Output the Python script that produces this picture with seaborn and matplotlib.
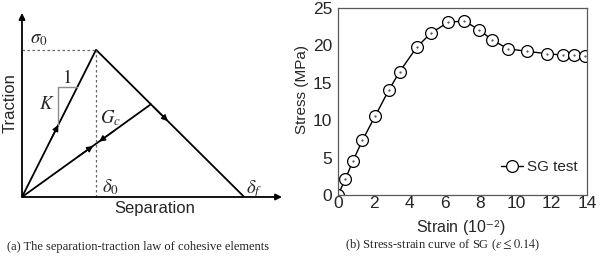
import matplotlib
matplotlib.use("Agg")
import matplotlib.pyplot as plt
import seaborn as sns
import pandas as pd
import numpy as np

# ---- data ----
# (a) cohesive law (normalised: delta0 = 1, sigma0 = 1)
law_sep = [0.0, 1.0, 3.0]          # 0, delta0, delta_f
law_trac = [0.0, 1.0, 0.0]
damage_sep = [0.0, 1.74]           # unloading/reloading path
damage_trac = [0.0, 0.63]

# (b) stress-strain curve of SG
strain = [0.0, 0.41, 0.84, 1.37, 2.1, 2.85, 3.47, 4.44, 5.23, 6.2, 7.1,
          7.93, 8.68, 9.56, 10.63, 11.73, 12.65, 13.29, 13.9]
stress = [0.0, 2.1, 4.55, 7.3, 10.6, 14.0, 16.5, 19.8, 21.65, 23.1, 23.26,
          22.1, 20.7, 19.55, 19.2, 18.9, 18.7, 18.7, 18.6]
xticks = [0, 2, 4, 6, 8, 10, 12, 14]
yticks = [0, 5, 10, 15, 20, 25]

sns.set_style("white")
plt.rcParams['font.family'] = ['Liberation Sans', 'DejaVu Sans']
plt.rcParams['mathtext.fontset'] = 'stix'

fig = plt.figure(figsize=(6.0, 2.57), dpi=100)

# ---------------- (a) ----------------
axA = fig.add_axes([22/600, (257-197)/257, 260/600, 184/257])
axA.set_xlim(0, 3.51)
axA.set_ylim(0, 1.25)
axA.axis('off')

df_law = pd.DataFrame({'sep': law_sep, 'trac': law_trac})
sns.lineplot(data=df_law, x='sep', y='trac', ax=axA, color='black', lw=1.3,
             sort=False, estimator=None)
df_dmg = pd.DataFrame({'sep': damage_sep, 'trac': damage_trac})
sns.lineplot(data=df_dmg, x='sep', y='trac', ax=axA, color='black', lw=1.3,
             sort=False, estimator=None)
axA.set_xlabel('')
axA.set_ylabel('')

# axes arrows
axA.annotate('', xy=(3.51, 0), xytext=(0, 0),
             arrowprops=dict(arrowstyle='-|>', color='black', lw=1.3,
                             mutation_scale=9, shrinkA=0, shrinkB=0),
             annotation_clip=False)
axA.annotate('', xy=(0, 1.25), xytext=(0, 0),
             arrowprops=dict(arrowstyle='-|>', color='black', lw=1.3,
                             mutation_scale=9, shrinkA=0, shrinkB=0),
             annotation_clip=False)

# dashed guides
axA.plot([0, law_sep[1]], [law_trac[1], law_trac[1]], ls=(0, (2, 2)), color='0.4', lw=0.9)
axA.plot([law_sep[1], law_sep[1]], [0, law_trac[1]], ls=(0, (2, 2)), color='0.4', lw=0.9)

# slope triangle
axA.plot([0.486, 0.743], [0.748, 0.748], color='0.55', lw=1.0)
axA.plot([0.486, 0.486], [0.748, 0.49], color='0.55', lw=1.0)

def small_arrow(x, y, dx, dy):
    axA.annotate('', xy=(x, y), xytext=(x - dx, y - dy),
                 arrowprops=dict(arrowstyle='-|>,head_length=0.6,head_width=0.3',
                                 color='black', lw=1.0,
                                 mutation_scale=6, shrinkA=0, shrinkB=0))

small_arrow(0.49, 0.49, 0.1, 0.1)
small_arrow(1.97, 0.515, 0.2, -0.1)
small_arrow(0.96, 0.347, 0.2, 0.072)
small_arrow(1.04, 0.376, -0.2, -0.072)

mfs = 13.5
axA.text(0.22, 1.07, r'$\sigma_0$', fontsize=mfs, ha='center', va='center')
axA.text(0.604, 0.81, r'$1$', fontsize=mfs, ha='center', va='center')
axA.text(0.33, 0.626, r'$K$', fontsize=mfs, ha='center', va='center')
axA.text(1.19, 0.535, r'$G_c$', fontsize=mfs, ha='center', va='center')
axA.text(1.19, 0.07, r'$\delta_0$', fontsize=mfs, ha='center', va='center')
axA.text(3.13, 0.05, r'$\delta_f$', fontsize=mfs, ha='center', va='center')

axA.text(-0.046, 0.51, 'Traction', transform=axA.transAxes, rotation=90,
         fontsize=12, ha='center', va='center')
axA.text(0.51, -0.06, 'Separation', transform=axA.transAxes,
         fontsize=12, ha='center', va='center')

fig.text(0.23, 0.039, '(a) The separation-traction law of cohesive elements',
         family=['Liberation Serif'], fontsize=9, ha='center', va='center')

# ---------------- (b) ----------------
axB = fig.add_axes([338/600, (257-195)/257, 249/600, 187/257])
df = pd.DataFrame({'strain': strain, 'stress': stress})
sns.lineplot(data=df, x='strain', y='stress', ax=axB, color='black', lw=1.0,
             marker='o', markersize=8.5, markerfacecolor='white',
             markeredgecolor='black', markeredgewidth=0.9, label='SG test',
             sort=False, estimator=None)
axB.plot(strain, stress, ls='none', marker='.', markersize=1.2, color='0.3')
axB.set_xlim(0, 14)
axB.set_ylim(0, 25)
axB.set_xticks(xticks)
axB.set_yticks(yticks)
axB.tick_params(axis='both', labelsize=12.5, length=0)
axB.tick_params(axis='x', pad=1)
axB.tick_params(axis='y', pad=4)
axB.set_xlabel('')
axB.set_ylabel('')
for s in axB.spines.values():
    s.set_color('0.35')
    s.set_linewidth(0.9)
    s.set_visible(True)

leg = axB.legend(loc='center right', frameon=False, fontsize=11,
                 handlelength=1.4, handletextpad=0.3,
                 bbox_to_anchor=(1.0, 0.15), borderaxespad=0.2)

fig.text(461/600, (257-228)/257, r'Strain (10$^{\mathsf{-2}}$)', fontsize=11.5,
         ha='center', va='center')
fig.text(302/600, (257-90)/257, 'Stress (MPa)', fontsize=11, rotation=90,
         ha='center', va='center')
fig.text(443/600, 0.047, r'(b) Stress-strain curve of SG ($\varepsilon \leq 0.14$)',
         family=['Liberation Serif'], fontsize=9, ha='center', va='center')

fig.savefig('out.png', dpi=100)
